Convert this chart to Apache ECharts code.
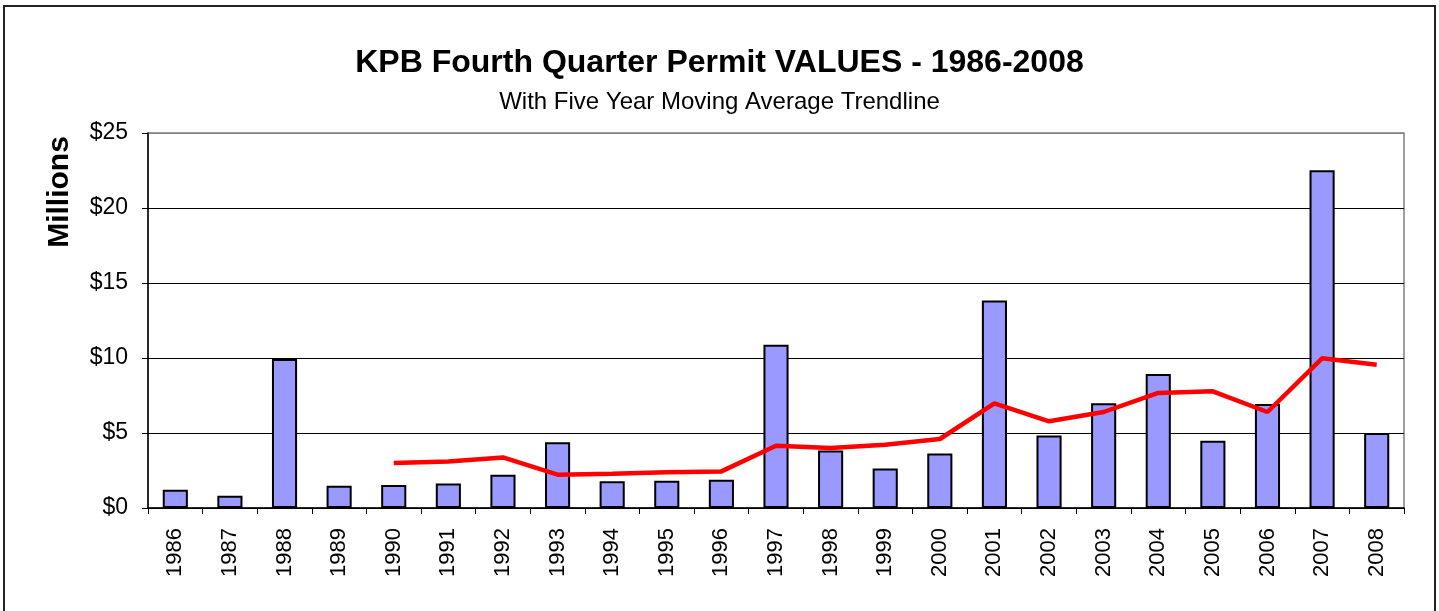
<!DOCTYPE html>
<html>
<head>
<meta charset="utf-8">
<script src="https://cdn.jsdelivr.net/npm/echarts@6/dist/echarts.min.js"></script>
<style>
  html, body { margin: 0; padding: 0; background: #fff; }
  #chart { width: 1439px; height: 611px; }
  .frame {
    position: absolute;
    left: 3px;
    top: 5px;
    width: 1429px;
    height: 700px;
    border: 2px solid #222;
    pointer-events: none;
  }
</style>
</head>
<body>
<div id="chart"></div>
<div class="frame"></div>
<script>
const years = ["1986", "1987", "1988", "1989", "1990", "1991", "1992", "1993", "1994", "1995", "1996", "1997",
  "1998", "1999", "2000", "2001", "2002", "2003", "2004", "2005", "2006", "2007", "2008"];

// permit values, millions of dollars
const permitValues = [1.22, 0.82, 9.93, 1.49, 1.53, 1.64, 2.22, 4.38, 1.78, 1.82, 1.89, 10.89,
  3.84, 2.64, 3.64, 13.84, 4.84, 6.98, 8.93, 4.49, 6.93, 22.51, 5.0];

// five year moving average, starts at 1990
const movingAvg = [null, null, null, null, 3.0, 3.1, 3.37, 2.22, 2.29, 2.38, 2.44, 4.15,
  4.0, 4.22, 4.6, 6.98, 5.78, 6.4, 7.67, 7.78, 6.4, 9.98, 9.55];

const yTicks = [0, 5, 10, 15, 20, 25];

const font = "Liberation Sans, Arial, sans-serif";

const chart = echarts.init(document.getElementById("chart"));

chart.setOption({
  animation: false,
  title: {
    text: "KPB Fourth Quarter Permit VALUES - 1986-2008",
    subtext: "With Five Year Moving Average Trendline",
    left: "center",
    top: 42,
    itemGap: 11,
    textStyle: {
      fontFamily: font,
      fontSize: 32,
      fontWeight: "bold",
      color: "#000"
    },
    subtextStyle: {
      fontFamily: font,
      fontSize: 24,
      color: "#000"
    }
  },
  graphic: [
    {
      type: "text",
      x: 60,
      y: 192,
      rotation: Math.PI / 2,
      style: {
        text: "Millions",
        font: "bold 30px " + font,
        fill: "#000",
        align: "center",
        verticalAlign: "middle"
      }
    }
  ],
  grid: {
    left: 148,
    right: 35,
    top: 133,
    bottom: 103,
    show: true,
    borderColor: "#808080",
    borderWidth: 1.5
  },
  xAxis: {
    type: "category",
    data: years,
    boundaryGap: true,
    axisLine: { lineStyle: { color: "#000", width: 1.5 } },
    axisTick: { show: true, length: 6, lineStyle: { color: "#000" } },
    axisLabel: {
      rotate: 90,
      margin: 20,
      color: "#000",
      fontSize: 22,
      fontFamily: font
    }
  },
  yAxis: {
    type: "value",
    min: yTicks[0],
    max: yTicks[yTicks.length - 1],
    interval: 5,
    axisLine: { show: true, lineStyle: { color: "#000", width: 1.5 } },
    axisTick: { show: true, length: 6, lineStyle: { color: "#000" } },
    axisLabel: {
      formatter: v => "$" + v,
      margin: 20,
      color: "#000",
      fontSize: 23,
      fontFamily: font
    },
    splitLine: {
      lineStyle: {
        color: ["#000", "#000", "#000", "#000", "#000", "#808080"],
        width: 1
      }
    }
  },
  series: [
    {
      name: "Permit Values",
      type: "bar",
      data: permitValues,
      barWidth: "46%",
      itemStyle: {
        color: "#9999FF",
        borderColor: "#000",
        borderWidth: 2
      }
    },
    {
      name: "5 Yr Moving Average",
      type: "line",
      data: movingAvg,
      showSymbol: false,
      connectNulls: false,
      z: 5,
      lineStyle: { color: "#FF0000", width: 4.5 }
    }
  ]
});
</script>
</body>
</html>
